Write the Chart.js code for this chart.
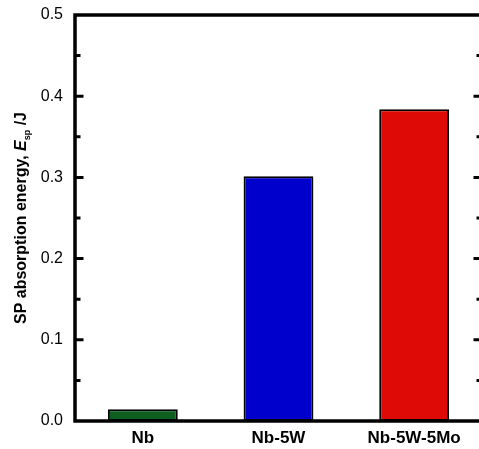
<!DOCTYPE html>
<html>
<head>
<meta charset="utf-8">
<script src="https://cdn.jsdelivr.net/npm/chart.js@4.4.1/dist/chart.umd.min.js"></script>
<style>
  html, body { margin: 0; padding: 0; overflow: hidden; background: #fff; }
  #wrap { width: 486px; height: 449px; }
</style>
</head>
<body>
<div id="wrap"><canvas id="chart" width="486" height="449"></canvas></div>
<script>
// data
const alloys = ['Nb', 'Nb-5W', 'Nb-5W-5Mo'];
const energies = [0.0144, 0.3013, 0.3838];
const barColors = ['#0d5e1f', '#0000cc', '#dd0a05'];
const yTicks = [0, 0.1, 0.2, 0.3, 0.4, 0.5];

// frame + inward ticks on left and right
const framePlugin = {
  id: 'frame',
  afterDraw(chart) {
    const ctx = chart.ctx;
    const area = chart.chartArea;
    const y = chart.scales.y;
    ctx.save();
    ctx.strokeStyle = '#000';
    ctx.lineWidth = 3;
    for (let i = 1; i < 10; i++) {
      const py = y.getPixelForValue(i * 0.05);
      const len = i % 2 === 0 ? 8.5 : 5.5;
      ctx.beginPath();
      ctx.moveTo(area.left, py);
      ctx.lineTo(area.left + len, py);
      ctx.moveTo(area.right, py);
      ctx.lineTo(area.right - len, py);
      ctx.stroke();
    }
    ctx.lineWidth = 3.5;
    ctx.strokeRect(area.left, area.top, area.right - area.left, area.bottom - area.top);
    ctx.restore();
  }
};

// rotated y title with subscript
const yTitlePlugin = {
  id: 'yTitle',
  afterDraw(chart) {
    const ctx = chart.ctx;
    const area = chart.chartArea;
    const parts = [
      { t: 'SP absorption energy, ', f: 'bold 16px "Liberation Sans", Arial, sans-serif', dy: 0 },
      { t: 'E', f: 'italic bold 16px "Liberation Sans", Arial, sans-serif', dy: 0 },
      { t: 'sp', f: 'bold 9px "Liberation Sans", Arial, sans-serif', dy: 4 },
      { t: ' /J', f: 'bold 16px "Liberation Sans", Arial, sans-serif', dy: 0 }
    ];
    ctx.save();
    let total = 0;
    parts.forEach(p => { ctx.font = p.f; p.w = ctx.measureText(p.t).width; total += p.w; });
    ctx.translate(26, (area.top + area.bottom) / 2);
    ctx.rotate(-Math.PI / 2);
    ctx.fillStyle = '#000';
    ctx.textBaseline = 'alphabetic';
    ctx.textAlign = 'left';
    let x = -total / 2;
    parts.forEach(p => {
      ctx.font = p.f;
      ctx.fillText(p.t, x, p.dy);
      x += p.w;
    });
    ctx.restore();
  }
};

new Chart(document.getElementById('chart'), {
  type: 'bar',
  data: {
    labels: alloys,
    datasets: [{
      data: energies,
      backgroundColor: barColors,
      borderColor: '#000',
      borderWidth: 2,
      borderSkipped: false,
      barPercentage: 0.515,
      categoryPercentage: 1
    }]
  },
  options: {
    responsive: false,
    devicePixelRatio: 1,
    animation: false,
    layout: { padding: { top: 15, right: 4, left: 0, bottom: 0 } },
    plugins: { legend: { display: false }, tooltip: { enabled: false } },
    scales: {
      x: {
        grid: { display: false, drawTicks: false },
        border: { display: false },
        ticks: {
          color: '#000',
          padding: 7,
          font: { family: '"Liberation Sans", Arial, sans-serif', size: 17, weight: 'bold' }
        },
        afterFit(scale) { scale.height = 28; scale.paddingLeft = 0; scale.paddingRight = 0; }
      },
      y: {
        min: 0,
        max: 0.5,
        grid: { display: false, drawTicks: false },
        border: { display: false },
        afterBuildTicks(scale) { scale.ticks = yTicks.map(v => ({ value: v })); },
        ticks: {
          color: '#000',
          padding: 12,
          font: { family: '"Liberation Sans", Arial, sans-serif', size: 16 },
          callback: v => Number(v).toFixed(1)
        },
        afterFit(scale) { scale.width = 75; scale.paddingTop = 0; scale.paddingBottom = 0; }
      }
    }
  },
  plugins: [framePlugin, yTitlePlugin]
});
</script>
</body>
</html>
